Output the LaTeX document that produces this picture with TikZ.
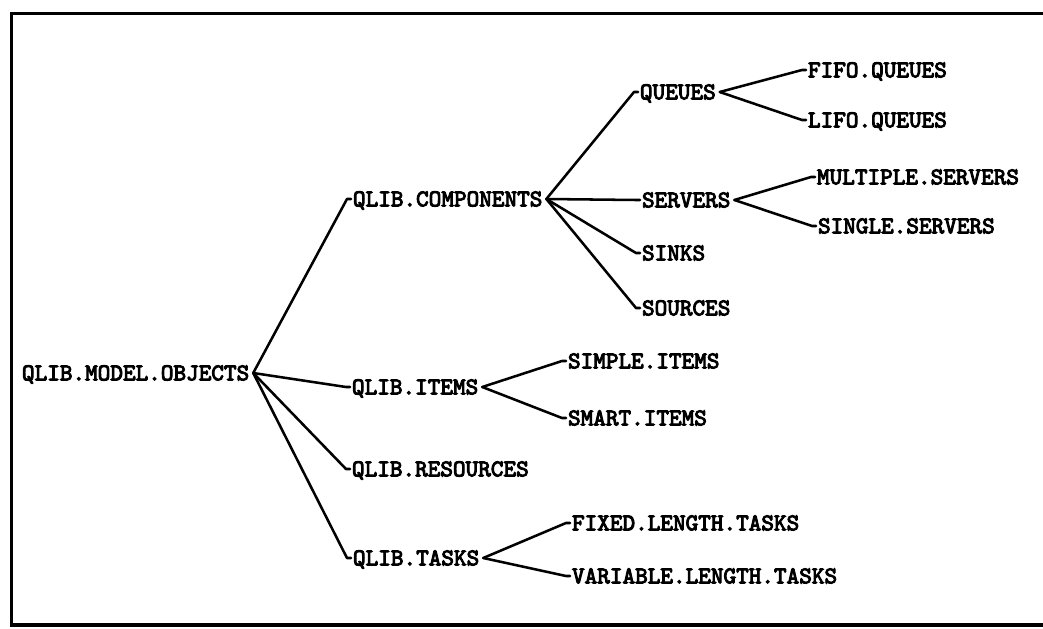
\documentclass[tikz,border=0pt]{standalone}
\usepackage{fontspec}
\newfontfamily\dotfont{lmmono10-regular}[Extension=.otf, FakeBold=4]
\begin{document}
\begin{tikzpicture}[x=0.025cm,y=-0.025cm,
  lbl/.style={anchor=west, inner sep=0pt, outer sep=0pt,
    font=\dotfont\fontsize{17.1}{18}\selectfont,
    text height=10.4pt, text depth=0pt},
  link/.style={line width=1.8pt, line join=round, line cap=round},
  frame/.style={line width=2.8pt}]
\useasboundingbox (0,0) rectangle (1043,629);
\draw[frame] (1043,13.5) -- (11.5,13.5) -- (11.5,625) -- (1043,625);

% nodes
\node[lbl] (root) at (22,373) {QLIB.MODEL.OBJECTS};
\node[lbl] (comp) at (353,199) {QLIB.COMPONENTS};
\node[lbl] (items) at (352,387) {QLIB.ITEMS};
\node[lbl] (res) at (352,469) {QLIB.RESOURCES};
\node[lbl] (tasks) at (353,558) {QLIB.TASKS};
\node[lbl] (queues) at (640,92) {QUEUES};
\node[lbl] (servers) at (642,200) {SERVERS};
\node[lbl] (sinks) at (642,253) {SINKS};
\node[lbl] (sources) at (642,308) {SOURCES};
\node[lbl] (fifo) at (808,70) {FIFO.QUEUES};
\node[lbl] (lifo) at (808,120) {LIFO.QUEUES};
\node[lbl] (multi) at (817,177) {MULTIPLE.SERVERS};
\node[lbl] (single) at (818,226) {SINGLE.SERVERS};
\node[lbl] (simple) at (568,361) {SIMPLE.ITEMS};
\node[lbl] (smart) at (568,418) {SMART.ITEMS};
\node[lbl] (fixed) at (572,523) {FIXED.LENGTH.TASKS};
\node[lbl] (variable) at (572,576) {VARIABLE.LENGTH.TASKS};

% junction points
\coordinate (rootj) at ([xshift=1mm]root.east);
\coordinate (compj) at ([xshift=1mm]comp.east);
\coordinate (itemsj) at ([xshift=1mm]items.east);
\coordinate (tasksj) at ([xshift=1mm]tasks.east);
\coordinate (queuesj) at ([xshift=1mm]queues.east);
\coordinate (serversj) at ([xshift=1mm]servers.east);

% connectors
\foreach \p/\c in {rootj/comp, rootj/items, rootj/res, rootj/tasks,
                   compj/queues, compj/servers, compj/sinks, compj/sources,
                   queuesj/fifo, queuesj/lifo,
                   serversj/multi, serversj/single,
                   itemsj/simple, itemsj/smart,
                   tasksj/fixed, tasksj/variable}
  \draw[link] (\p) -- ([xshift=-1.5mm]\c.west) -- ([xshift=-0.5mm]\c.west);
\end{tikzpicture}
\end{document}
